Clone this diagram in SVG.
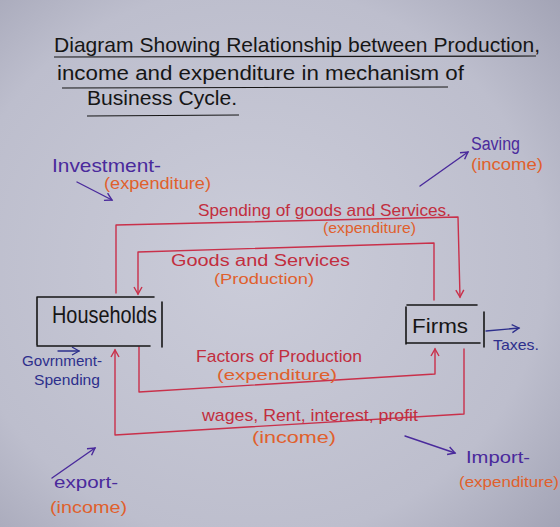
<svg xmlns="http://www.w3.org/2000/svg" width="560" height="527" viewBox="0 0 560 527">
<style>
text{font-family:"Liberation Sans","Noto Sans",sans-serif;}
.blk{fill:#161616}
.red{fill:#c22e3e}
.org{fill:#e0602c}
.pur{fill:#4a2a9c}
.nav{fill:#2d2f8c}
.ln{fill:none;stroke:#c9304a;stroke-width:1.4;stroke-linecap:round;stroke-linejoin:round}
.bx{fill:none;stroke:#161616;stroke-width:1.6;stroke-linecap:round}
.ul{fill:none;stroke:#161616;stroke-width:1.2}
.pa{fill:none;stroke:#4a2a9c;stroke-width:1.4;stroke-linecap:round}
.na{fill:none;stroke:#2d2f8c;stroke-width:1.3;stroke-linecap:round}
</style>
<defs>
<radialGradient id="bg" cx="0.45" cy="0.5" r="0.75">
<stop offset="0" stop-color="#cbccd9"/>
<stop offset="0.7" stop-color="#bdbecd"/>
<stop offset="1" stop-color="#a2a3b5"/>
</radialGradient>
<marker id="ar" markerUnits="userSpaceOnUse" markerWidth="12" markerHeight="12" refX="8" refY="5" orient="auto">
<path d="M1,1 L8,5 L1,9" fill="none" stroke="#c9304a" stroke-width="1.4"/>
</marker>
<marker id="ap" markerUnits="userSpaceOnUse" markerWidth="12" markerHeight="12" refX="8" refY="5" orient="auto">
<path d="M1,1 L8,5 L1,9" fill="none" stroke="#4a2a9c" stroke-width="1.4"/>
</marker>
<marker id="an" markerUnits="userSpaceOnUse" markerWidth="12" markerHeight="12" refX="8" refY="5" orient="auto">
<path d="M1,1 L8,5 L1,9" fill="none" stroke="#2d2f8c" stroke-width="1.3"/>
</marker>
</defs>
<rect width="560" height="527" fill="url(#bg)"/>

<g id="title">
<text class="blk" x="54" y="52" font-size="21" textLength="486" lengthAdjust="spacingAndGlyphs">Diagram Showing Relationship between Production,</text>
<path class="ul" d="M54,57 L536,56"/>
<text class="blk" x="57" y="80" font-size="20" textLength="407" lengthAdjust="spacingAndGlyphs">income and expenditure in mechanism of</text>
<path class="ul" d="M62,88 L448,87"/>
<text class="blk" x="87" y="105" font-size="20" textLength="150" lengthAdjust="spacingAndGlyphs">Business Cycle.</text>
<path class="ul" d="M87,116 L239,115"/>
</g>

<g id="connectors">
<path class="ln" d="M116,293 L116,225 L458,217 L460,297" marker-end="url(#ar)"/>
<path class="ln" d="M434,300 L434,243 L138,252 L138,294" marker-end="url(#ar)"/>
<path class="ln" d="M139,347 L139,392 L435,374 L435,349" marker-end="url(#ar)"/>
<path class="ln" d="M464,349 L464,414 L115,435 L115,350" marker-end="url(#ar)"/>
<path class="pa" d="M77,182 L112,200" marker-end="url(#ap)"/>
<path class="pa" d="M420,186 L468,152" marker-end="url(#ap)"/>
<path class="na" d="M486,331 L519,328" marker-end="url(#an)"/>
<path class="na" d="M58,351 L79,351" marker-end="url(#an)"/>
<path class="pa" d="M405,436 L455,453" marker-end="url(#ap)"/>
<path class="pa" d="M52,478 L95,448" marker-end="url(#ap)"/>
</g>

<g id="households">
<path class="bx" d="M37,297 L154,297 M37,297 L37,345 M37,346 L150,346 M162,302 L162,347"/>
<text class="blk" x="52" y="323" font-size="24" textLength="105" lengthAdjust="spacingAndGlyphs">Households</text>
</g>

<g id="firms">
<path class="bx" d="M407,305 L477,305 M406,307 L406,344 M406,343 L480,343 M484,312 L484,347"/>
<text class="blk" x="412" y="333" font-size="21" textLength="56" lengthAdjust="spacingAndGlyphs">Firms</text>
</g>

<g id="labels">
<text class="pur" x="52" y="172" font-size="19" textLength="109" lengthAdjust="spacingAndGlyphs">Investment-</text>
<text class="org" x="104" y="189" font-size="16" textLength="107" lengthAdjust="spacingAndGlyphs">(expenditure)</text>
<text class="pur" x="471" y="150" font-size="18" textLength="49" lengthAdjust="spacingAndGlyphs">Saving</text>
<text class="org" x="471" y="170" font-size="17" textLength="72" lengthAdjust="spacingAndGlyphs">(income)</text>
<text class="red" x="198" y="216" font-size="17" textLength="253" lengthAdjust="spacingAndGlyphs">Spending of goods and Services.</text>
<text class="org" x="323" y="233" font-size="14" textLength="93" lengthAdjust="spacingAndGlyphs">(expenditure)</text>
<text class="red" x="171" y="266" font-size="16" textLength="179" lengthAdjust="spacingAndGlyphs">Goods and Services</text>
<text class="org" x="214" y="284" font-size="15" textLength="100" lengthAdjust="spacingAndGlyphs">(Production)</text>
<text class="nav" x="22" y="366" font-size="15" textLength="80" lengthAdjust="spacingAndGlyphs">Govrnment-</text>
<text class="nav" x="34" y="385" font-size="15" textLength="66" lengthAdjust="spacingAndGlyphs">Spending</text>
<text class="nav" x="493" y="350" font-size="15" textLength="46" lengthAdjust="spacingAndGlyphs">Taxes.</text>
<text class="red" x="196" y="362" font-size="16" textLength="166" lengthAdjust="spacingAndGlyphs">Factors of Production</text>
<text class="org" x="217" y="380" font-size="15" textLength="120" lengthAdjust="spacingAndGlyphs">(expenditure)</text>
<text class="red" x="202" y="421" font-size="17" textLength="216" lengthAdjust="spacingAndGlyphs">wages, Rent, interest, profit</text>
<text class="org" x="252" y="443" font-size="17" textLength="84" lengthAdjust="spacingAndGlyphs">(income)</text>
<text class="pur" x="466" y="463" font-size="17" textLength="64" lengthAdjust="spacingAndGlyphs">Import-</text>
<text class="org" x="459" y="487" font-size="15" textLength="100" lengthAdjust="spacingAndGlyphs">(expenditure)</text>
<text class="pur" x="54" y="488" font-size="17" textLength="64" lengthAdjust="spacingAndGlyphs">export-</text>
<text class="org" x="50" y="513" font-size="17" textLength="77" lengthAdjust="spacingAndGlyphs">(income)</text>
</g>
</svg>
